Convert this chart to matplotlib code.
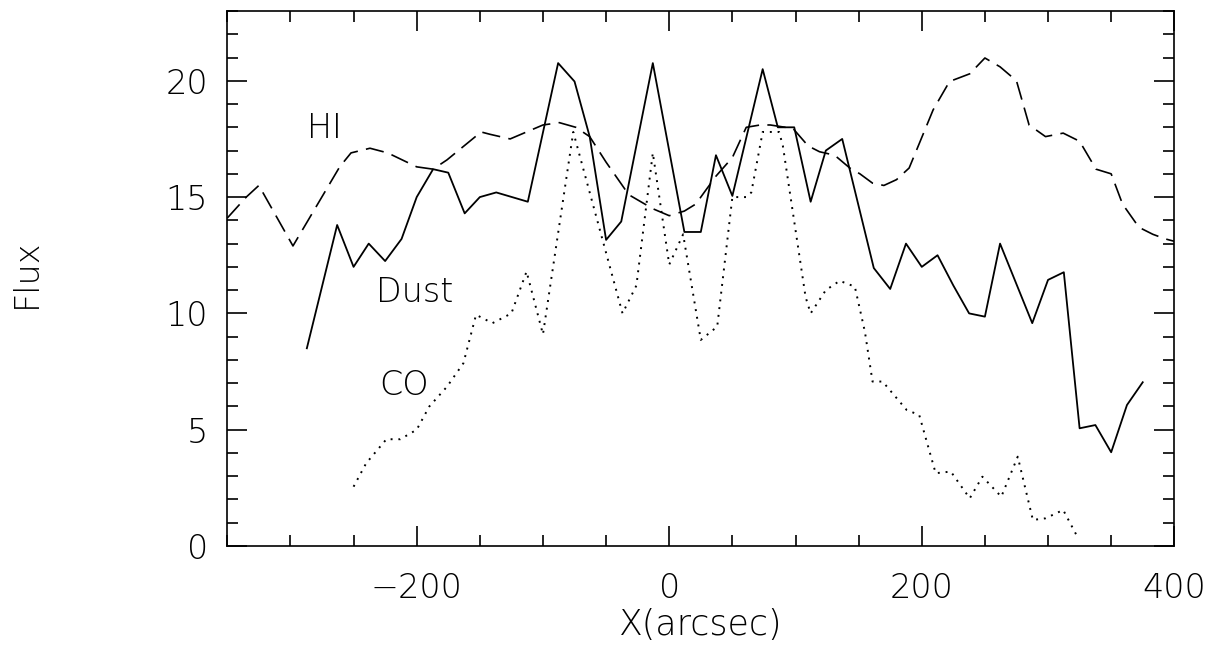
import matplotlib
matplotlib.use("Agg")
import matplotlib.pyplot as plt
from matplotlib.ticker import MultipleLocator

plt.rcParams['font.family'] = ['DejaVu Sans']

# ---- data ----
dust_x = [-287, -263, -250, -238, -225, -212, -200, -187, -175, -162, -150, -137,
          -112, -88, -75, -63, -50, -38, -13, 12, 25, 37, 50, 74, 86, 99, 112, 124,
          137, 162, 175, 187.5, 200, 212.5, 225, 237.5, 250, 262, 287.5, 300, 312.5,
          325, 337.5, 350, 362.5, 375]
dust_y = [8.5, 13.8, 12.0, 13.0, 12.25, 13.2, 15.0, 16.2, 16.05, 14.3, 15.0, 15.2,
          14.8, 20.76, 19.97, 17.6, 13.16, 13.95, 20.76, 13.5, 13.5, 16.8, 15.05, 20.5,
          18.0, 18.0, 14.8, 17.0, 17.5, 11.95, 11.05, 13.0, 12.0, 12.5, 11.2, 10.0, 9.86,
          13.0, 9.58, 11.44, 11.77, 5.06, 5.2, 4.03, 6.06, 7.04]

hi_x = [-350, -335, -325, -298, -261, -252, -237, -223, -200, -187, -176, -149, -142,
        -126, -100, -87, -74, -63, -50, -32, -13, 0, 12, 21, 37, 50, 61, 72, 80, 98,
        110, 119, 131, 143, 151, 161, 170, 180, 190, 198, 209, 222, 238, 250, 262, 275,
        285, 298, 312, 325, 338, 350, 359, 372, 383, 393, 400]
hi_y = [14.1, 15.0, 15.5, 12.9, 16.3, 16.9, 17.1, 16.9, 16.3, 16.2, 16.6, 17.8, 17.7,
        17.5, 18.1, 18.2, 18.0, 17.6, 16.5, 15.1, 14.5, 14.2, 14.4, 14.7, 15.9, 16.7,
        18.0, 18.1, 18.1, 17.95, 17.2, 16.95, 16.8, 16.25, 16.0, 15.6, 15.5, 15.75,
        16.25, 17.3, 18.75, 19.97, 20.3, 20.98, 20.6, 20.0, 18.1, 17.6, 17.75, 17.4,
        16.2, 16.0, 14.7, 13.7, 13.4, 13.2, 13.1]

co_x = [-250, -240, -224, -213, -200, -190, -176, -163, -153, -140, -125, -113, -100,
        -76, -37, -26, -13, 0, 11, 25, 38, 50, 61, 65, 74, 87, 90, 108, 112, 124, 135,
        147, 155, 161, 169, 188, 198, 211, 223, 238, 248, 263, 276, 288, 298, 312, 323.5]
co_y = [2.55, 3.56, 4.59, 4.59, 5.0, 6.0, 6.85, 7.86, 9.94, 9.58, 10.0, 11.8, 9.1,
        17.8, 10.0, 11.2, 16.9, 12.1, 13.4, 8.86, 9.43, 15.0, 15.0, 15.2, 17.8, 17.8,
        17.2, 10.7, 10.0, 11.0, 11.4, 11.15, 9.2, 7.07, 7.07, 5.85, 5.63, 3.13, 3.2,
        2.05, 2.98, 2.12, 3.84, 1.12, 1.19, 1.55, 0.37]

labels = ["HI", "Dust", "CO"]
label_x = [-287, -232, -230]
label_y = [17.55, 10.5, 6.5]

x_ticks = [-200, 0, 200, 400]
y_ticks = [0, 5, 10, 15, 20]

# ---- figure ----
W, H = 1211, 645
fig = plt.figure(figsize=(W / 100, H / 100), dpi=100)
ax = fig.add_axes([227.3 / W, 1 - 546 / H, (1174.3 - 227.3) / W, (546 - 11) / H])

ax.plot(dust_x, dust_y, color='black', lw=1.3, ls='-')
ax.plot(hi_x, hi_y, color='black', lw=1.2, ls=(0, (11, 5)))
ax.plot(co_x, co_y, color='black', lw=1.4, ls=(0, (1, 3)))

fs = 24
for t, x, y in zip(labels, label_x, label_y):
    ax.text(x, y, t, fontsize=fs, ha='left', va='baseline', color='black',
            fontweight='light')

ax.set_xlim(-350, 400)
ax.set_ylim(0, 23)
ax.set_xticks(x_ticks)
ax.set_yticks(y_ticks)
ax.xaxis.set_minor_locator(MultipleLocator(50))
ax.yaxis.set_minor_locator(MultipleLocator(1))

ax.tick_params(which='both', direction='in', top=True, right=True, width=1.2,
               colors='black', labelsize=fs)
ax.tick_params(which='major', length=14.5)
ax.tick_params(which='minor', length=8)
ax.tick_params(axis='x', which='major', pad=19)
ax.tick_params(axis='y', which='major', pad=14)
for lab in ax.get_xticklabels() + ax.get_yticklabels():
    lab.set_fontweight('light')
for s in ax.spines.values():
    s.set_linewidth(1.2)

ax.set_xlabel("X(arcsec)", fontsize=25, labelpad=2, fontweight='light')
ax.set_ylabel("Flux", fontsize=fs, fontweight='light')
ax.yaxis.set_label_coords((43 - 227.3) / (1174.3 - 227.3), (546 - 273) / (546 - 11))

fig.savefig("out.png", dpi=100)
